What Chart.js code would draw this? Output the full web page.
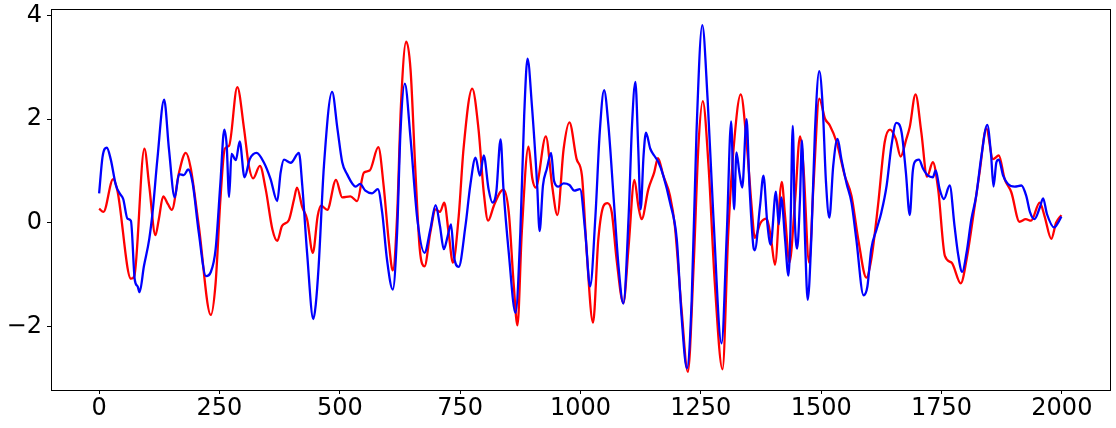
<!DOCTYPE html>
<html>
<head>
<meta charset="utf-8">
<script src="https://cdn.jsdelivr.net/npm/chart.js@4"></script>
<style>
html, body { margin: 0; padding: 0; background: #fff; }
</style>
</head>
<body>
<canvas id="myChart" width="1116" height="428"></canvas>
<script>
// values (x position, value)
const redX = [0,9,29,38,66,73,94,104,117,124,133,143,151,166,180,190,207,232,242,252,261,270,287,301,311,320,334,346,360,370,380,394,405,411,422,432,444,454,461,474,492,505,522,536,550,562,580,591,602,610,619,627,638,647,657,666,676,688,699,708,717,726,735,747,757,775,788,799,808,820,833,840,851,861,869,878,892,900,907,928,941,952,965,977,992,1003,1013,1026,1037,1048,1056,1065,1075,1089,1100,1112,1120,1127,1141,1153,1161,1172,1186,1196,1210,1223,1235,1245,1254,1266,1279,1295,1307,1318,1333,1345,1356,1362,1374,1387,1396,1404,1418,1425,1434,1446,1456,1463,1475,1484,1496,1508,1518,1532,1549,1563,1577,1594,1604,1618,1632,1643,1655,1665,1677,1684,1696,1708,1720,1732,1743,1757,1771,1790,1802,1819,1829,1843,1857,1869,1881,1895,1912,1925,1936,1954,1964,1978,1988,1999];
const redY = [0.275,0.21,0.845,0.62,-1.08,-1.03,1.43,0.72,-0.24,0.07,0.51,0.36,0.25,0.97,1.35,1.07,-0.06,-1.78,-1.16,0.46,1.43,1.49,2.62,1.82,1.10,0.86,1.10,0.65,-0.13,-0.35,-0.06,0.05,0.46,0.68,0.30,0.07,-0.58,0.13,0.33,0.25,0.83,0.49,0.51,0.42,0.97,1.01,1.46,0.72,-0.39,-0.92,0.13,2.27,3.50,2.95,1.0,-0.5,-0.84,-0.19,0.26,0.21,0.39,-0.19,-0.77,0.13,1.43,2.59,1.82,0.59,0.04,0.33,0.59,0.64,0.20,-1.16,-1.98,-0.19,1.47,0.85,0.68,1.67,0.72,0.15,1.43,1.94,1.23,0.91,-0.58,-1.93,-0.32,0.33,0.38,0.20,-0.71,-1.55,-0.45,0.83,0.33,0.07,0.65,0.97,1.25,0.91,0.52,-0.06,-1.68,-2.88,-0.84,1.49,2.35,1.10,-1.16,-2.83,-0.19,1.43,2.48,1.56,0.26,-0.29,0.00,0.08,-0.32,-0.81,0.79,0.13,-0.77,0.46,1.67,1.10,-0.77,0.72,2.40,2.01,1.88,1.56,0.91,0.52,-0.32,-1.06,-0.71,0.33,1.56,1.80,1.62,1.28,1.62,1.85,2.48,1.75,0.89,1.17,0.65,-0.64,-0.77,-1.17,-0.71,0.33,0.97,1.82,1.23,1.30,0.85,0.59,0.02,0.07,0.04,0.39,0.13,-0.31,0.00,0.15];

const blueX = [0,7,16,24,35,44,50,59,66,74,80,84,93,104,111,121,135,145,157,166,176,185,194,207,222,232,242,252,260,265,270,275,284,292,302,313,327,342,356,370,377,384,398,415,422,432,445,450,456,467,484,495,505,515,533,542,553,567,579,588,598,610,619,626,635,647,661,676,688,699,708,716,724,731,737,747,761,771,782,791,799,809,817,825,834,840,851,865,875,883,890,899,910,915,922,930,939,945,954,965,977,987,999,1010,1020,1031,1040,1049,1058,1069,1079,1089,1100,1107,1114,1120,1125,1131,1136,1145,1153,1162,1172,1186,1200,1210,1221,1231,1241,1253,1264,1276,1293,1304,1313,1319,1324,1330,1336,1345,1351,1359,1362,1373,1380,1388,1395,1406,1412,1417,1425,1432,1436,1441,1445,1450,1456,1460,1466,1472,1480,1487,1496,1503,1510,1517,1525,1534,1542,1553,1563,1573,1588,1596,1604,1615,1625,1636,1646,1656,1667,1676,1684,1690,1694,1703,1712,1722,1732,1738,1746,1755,1767,1777,1784,1793,1802,1812,1822,1833,1845,1853,1858,1864,1869,1878,1888,1902,1916,1926,1934,1943,1954,1961,1969,1984,1992,1999];
const blueY = [0.57,1.27,1.45,1.23,0.72,0.55,0.46,0.08,0.04,-1.10,-1.23,-1.34,-0.84,-0.32,0.20,1.23,2.38,1.43,0.49,0.94,0.92,1.03,0.78,-0.19,-1.03,-0.95,-0.51,0.78,1.80,1.49,0.50,1.33,1.21,1.57,0.88,1.23,1.35,1.17,0.85,0.42,0.97,1.22,1.16,1.35,0.72,-0.58,-1.86,-1.58,-0.84,1.10,2.53,1.82,1.17,0.94,0.70,0.75,0.62,0.57,0.65,0.20,-0.71,-1.29,-0.19,1.75,2.69,1.62,0.07,-0.58,-0.13,0.34,-0.06,-0.51,-0.26,-0.03,-0.64,-0.85,-0.06,0.72,1.26,0.91,1.30,0.65,0.39,0.59,1.61,0.65,-0.58,-1.74,-0.19,2.07,3.17,2.27,0.72,-0.16,0.72,1.04,1.35,0.81,0.70,0.76,0.73,0.62,0.65,-0.19,-1.23,0.13,1.75,2.56,1.88,0.46,-0.84,-1.56,0.13,1.88,2.72,1.43,0.26,1.30,1.74,1.43,1.30,1.17,0.91,0.39,-0.32,-1.81,-2.81,-1.49,1.75,3.82,2.40,0.13,-2.33,-0.19,1.96,0.26,1.36,0.97,0.68,2.00,0.72,-0.45,-0.53,0.33,0.91,0.00,-0.42,0.60,-0.03,0.49,-0.32,-1.02,-0.19,1.87,0.13,-0.50,0.46,1.59,-0.19,-1.49,-0.19,1.75,2.93,2.27,0.78,0.10,1.10,1.62,1.23,0.75,0.39,-0.32,-1.40,-1.23,-0.51,-0.13,0.20,0.72,1.49,1.93,1.75,0.97,0.15,0.97,1.17,1.22,1.04,0.91,0.88,1.01,0.65,0.46,0.72,-0.06,-0.58,-0.95,-0.58,0.07,0.52,1.30,1.89,1.30,0.70,1.17,1.22,0.91,0.75,0.70,0.72,0.52,0.20,0.07,0.29,0.47,0.17,-0.09,0.00,0.12];

const xTicks = [0, 250, 500, 750, 1000, 1250, 1500, 1750, 2000];
const yTicks = [-2, 0, 2, 4];

function pairs(xs, ys) {
  return xs.map((x, i) => ({ x: x, y: ys[i] }));
}

// black box round the plot, like matplotlib spines
const frame = {
  id: "frame",
  afterDatasetsDraw(chart) {
    const a = chart.chartArea;
    const c = chart.ctx;
    c.save();
    c.strokeStyle = "#000";
    c.lineWidth = 1;
    c.strokeRect(Math.round(a.left) + 0.5, Math.round(a.top) + 0.5,
      Math.round(a.right - a.left), Math.round(a.bottom - a.top));
    c.restore();
  },
};

const font = { family: "DejaVu Sans", size: 24 };

const ctx = document.getElementById("myChart");

myChart = new Chart(ctx, {
  type: "line",
  data: {
    datasets: [
      {
        data: pairs(blueX, blueY),
        borderColor: "#0000ff",
        borderWidth: 2.3,
        order: 0,
      },
      {
        data: pairs(redX, redY),
        borderColor: "#ff0000",
        borderWidth: 2.3,
        order: 1,
      },
    ],
  },
  options: {
    responsive: false,
    animation: false,
    devicePixelRatio: 1,
    layout: { padding: { top: 9, right: 6, left: 0, bottom: 0 } },
    elements: {
      point: { radius: 0 },
      line: { cubicInterpolationMode: "monotone" },
    },
    plugins: {
      legend: { display: false },
      tooltip: { enabled: false },
    },
    scales: {
      x: {
        type: "linear",
        min: -100,
        max: 2100,
        afterBuildTicks: (s) => { s.ticks = xTicks.map((v) => ({ value: v })); },
        afterFit: (s) => {
          s.height = 38;
          s.paddingLeft = 0;
          s.paddingRight = 0;
        },
        grid: { drawOnChartArea: false, tickLength: 4, color: "#000", tickWidth: 1 },
        border: { display: false },
        ticks: {
          color: "#000",
          font: font,
          padding: 0,
          maxRotation: 0,
          callback: (v) => String(v),
        },
      },
      y: {
        min: -3.23,
        max: 4.13,
        afterBuildTicks: (s) => { s.ticks = yTicks.map((v) => ({ value: v })); },
        afterFit: (s) => {
          s.width = 51;
          s.paddingTop = 0;
          s.paddingBottom = 0;
        },
        grid: { drawOnChartArea: false, tickLength: 4, color: "#000", tickWidth: 1 },
        border: { display: false },
        ticks: {
          color: "#000",
          font: font,
          padding: 5,
          callback: (v) => String(v).replace("-", "\u2212"),
        },
      },
    },
  },
  plugins: [frame],
});
</script>
</body>
</html>
